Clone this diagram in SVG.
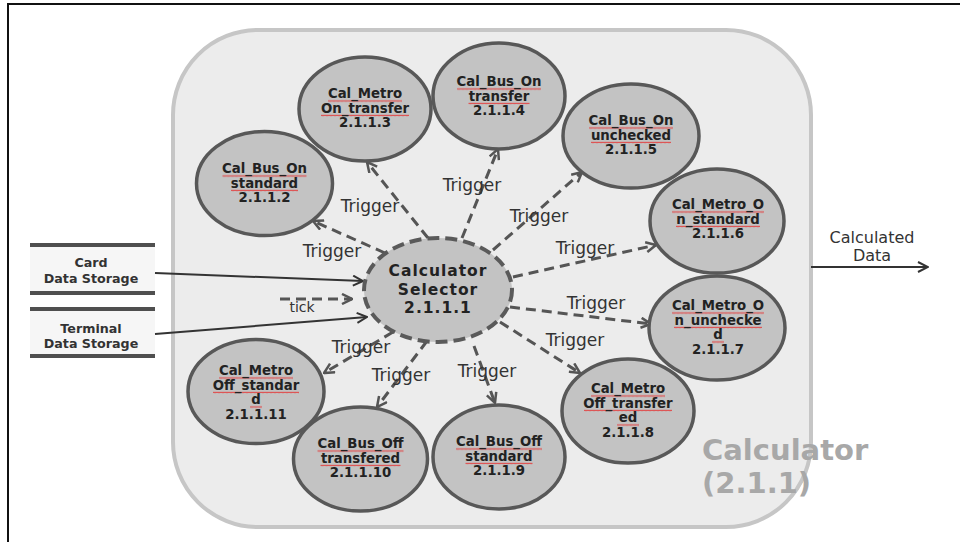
<svg xmlns="http://www.w3.org/2000/svg" width="960" height="542" viewBox="0 0 960 542">
<style>
.node ellipse{fill:#c3c3c3;stroke:#585858;stroke-width:3.5}
.nt{font-family:"DejaVu Sans","Noto Sans",sans-serif;font-weight:bold;font-size:13.3px;fill:#222;text-anchor:middle}
.sq{fill:url(#wave)}
.lbl{font-family:"DejaVu Sans","Noto Sans",sans-serif;font-size:17px;fill:#333;text-anchor:middle}
.trg{stroke:#555;stroke-width:3;stroke-dasharray:10 6;fill:none;marker-end:url(#open)}
.sol{stroke:#333;stroke-width:2;fill:none;marker-end:url(#openS)}
.store{stroke:#4f4f4f;stroke-width:4}
.st{font-family:"DejaVu Sans","Noto Sans",sans-serif;font-weight:bold;font-size:12.7px;fill:#333;text-anchor:middle}
.sel{font-family:"DejaVu Sans","Noto Sans",sans-serif;font-weight:bold;font-size:15.5px;letter-spacing:1px;fill:#222;text-anchor:middle}
</style>
<defs>
<marker id="open" viewBox="0 0 12 12" refX="11" refY="6" markerWidth="12" markerHeight="12" markerUnits="userSpaceOnUse" orient="auto">
<path d="M1,1 L11,6 L1,11" fill="none" stroke="#555" stroke-width="2.5" stroke-dasharray="none"/>
</marker>
<marker id="openS" viewBox="0 0 12 12" refX="11" refY="6" markerWidth="12" markerHeight="12" markerUnits="userSpaceOnUse" orient="auto">
<path d="M1,1 L11,6 L1,11" fill="none" stroke="#333" stroke-width="2"/>
</marker>
<pattern id="wave" width="4" height="3" patternUnits="userSpaceOnUse">
<path d="M0,2.2 L1,0.8 L2,2.2 L3,0.8 L4,2.2" fill="none" stroke="#e04848" stroke-width="0.9"/>
</pattern>
</defs>
<rect width="960" height="542" fill="#fff"/>
<path d="M8,542 V4 H960" fill="none" stroke="#111" stroke-width="2"/>

<g id="container">
<rect x="173" y="30" width="638" height="497" rx="85" ry="85" fill="#ececec" stroke="#c6c6c6" stroke-width="4"/>
<text x="702" y="460" font-family="DejaVu Sans, sans-serif" font-weight="bold" font-size="29" fill="#a8a8a8">Calculator</text>
<text x="702" y="493" font-family="DejaVu Sans, sans-serif" font-weight="bold" font-size="29" fill="#a8a8a8">(2.1.1)</text>
</g>

<g id="card-store">
<rect x="30" y="247" width="125" height="44" fill="#f6f6f6"/>
<line class="store" x1="30" y1="245" x2="155" y2="245"/>
<line class="store" x1="30" y1="293" x2="155" y2="293"/>
<text class="st" x="91" y="267">Card</text>
<text class="st" x="91" y="283">Data Storage</text>
</g>
<g id="terminal-store">
<rect x="30" y="311" width="125" height="43" fill="#f6f6f6"/>
<line class="store" x1="30" y1="309" x2="155" y2="309"/>
<line class="store" x1="30" y1="356" x2="155" y2="356"/>
<text class="st" x="91" y="333">Terminal</text>
<text class="st" x="91" y="348">Data Storage</text>
</g>

<g id="connectors">
<line class="sol" x1="155" y1="273" x2="363" y2="281"/>
<line class="sol" x1="155" y1="334" x2="367" y2="317"/>
<line class="trg" x1="280" y1="299" x2="352" y2="299"/>
<text class="lbl" x="302" y="312" style="font-size:14px">tick</text>
<line class="sol" x1="811" y1="267" x2="928" y2="267"/>
<text class="lbl" x="872" y="243" style="font-size:16px">Calculated</text>
<text class="lbl" x="872" y="261" style="font-size:16px">Data</text>

<line class="trg" x1="385" y1="253" x2="313" y2="221"/>
<line class="trg" x1="428" y1="238" x2="367" y2="162"/>
<line class="trg" x1="462" y1="238" x2="498" y2="149"/>
<line class="trg" x1="493" y1="250" x2="582" y2="172"/>
<line class="trg" x1="513" y1="277" x2="656" y2="245"/>
<line class="trg" x1="510" y1="307" x2="651" y2="324"/>
<line class="trg" x1="500" y1="322" x2="580" y2="373"/>
<line class="trg" x1="474" y1="346" x2="495" y2="403"/>
<line class="trg" x1="427" y1="341" x2="377" y2="407"/>
<line class="trg" x1="393" y1="332" x2="324" y2="373"/>

<text class="lbl" x="332" y="257">Trigger</text>
<text class="lbl" x="370" y="212">Trigger</text>
<text class="lbl" x="472" y="191">Trigger</text>
<text class="lbl" x="539" y="222">Trigger</text>
<text class="lbl" x="585" y="254">Trigger</text>
<text class="lbl" x="596" y="309">Trigger</text>
<text class="lbl" x="575" y="346">Trigger</text>
<text class="lbl" x="487" y="377">Trigger</text>
<text class="lbl" x="401" y="381">Trigger</text>
<text class="lbl" x="361" y="353">Trigger</text>
</g>

<g id="n2111">
<ellipse cx="438" cy="290" rx="74" ry="52" fill="#c3c3c3" stroke="#5a5a5a" stroke-width="4" stroke-dasharray="12 6"/>
<text class="sel" x="438" y="276">Calculator</text>
<text class="sel" x="438" y="294.5">Selector</text>
<text class="sel" x="438" y="313">2.1.1.1</text>
</g>

<g id="n2112" class="node">
<ellipse cx="264.5" cy="183.5" rx="68" ry="52"/>
<rect class="sq" transform="translate(222.5,174.5)" width="84" height="3"/>
<rect class="sq" transform="translate(231,189)" width="67" height="3"/>
<text class="nt" x="264.5" y="173">Cal_Bus_On<tspan x="264.5" dy="14.5">standard</tspan><tspan x="264.5" dy="14.5">2.1.1.2</tspan></text>
</g>
<g id="n2113" class="node">
<ellipse cx="365" cy="109" rx="66" ry="52"/>
<rect class="sq" transform="translate(328,99.5)" width="74" height="3"/>
<rect class="sq" transform="translate(321,114)" width="88" height="3"/>
<text class="nt" x="365" y="98">Cal_Metro<tspan x="365" dy="14.5">On_transfer</tspan><tspan x="365" dy="14.5">2.1.1.3</tspan></text>
</g>
<g id="n2114" class="node">
<ellipse cx="499" cy="96" rx="66" ry="53"/>
<rect class="sq" transform="translate(457,87.5)" width="84" height="3"/>
<rect class="sq" transform="translate(468.5,102)" width="61" height="3"/>
<text class="nt" x="499" y="86">Cal_Bus_On<tspan x="499" dy="14.5">transfer</tspan><tspan x="499" dy="14.5">2.1.1.4</tspan></text>
</g>
<g id="n2115" class="node">
<ellipse cx="631" cy="136" rx="68" ry="52"/>
<rect class="sq" transform="translate(589,126.5)" width="84" height="3"/>
<rect class="sq" transform="translate(591,141)" width="80" height="3"/>
<text class="nt" x="631" y="125">Cal_Bus_On<tspan x="631" dy="14.5">unchecked</tspan><tspan x="631" dy="14.5">2.1.1.5</tspan></text>
</g>
<g id="n2116" class="node">
<ellipse cx="717" cy="221" rx="67" ry="52"/>
<rect class="sq" transform="translate(672,210.5)" width="92" height="3"/>
<rect class="sq" transform="translate(676,225)" width="84" height="3"/>
<text class="nt" x="718" y="209">Cal_Metro_O<tspan x="718" dy="14.5">n_standard</tspan><tspan x="718" dy="14.5">2.1.1.6</tspan></text>
</g>
<g id="n2117" class="node">
<ellipse cx="717" cy="328" rx="68" ry="52"/>
<rect class="sq" transform="translate(672,311.5)" width="92" height="3"/>
<rect class="sq" transform="translate(674,326)" width="88" height="3"/>
<rect class="sq" transform="translate(712,340.5)" width="12" height="3"/>
<text class="nt" x="718" y="310">Cal_Metro_O<tspan x="718" dy="14.5">n_unchecke</tspan><tspan x="718" dy="14.5">d</tspan><tspan x="718" dy="14.5">2.1.1.7</tspan></text>
</g>
<g id="n2118" class="node">
<ellipse cx="628" cy="411" rx="66" ry="52"/>
<rect class="sq" transform="translate(591,394.5)" width="74" height="3"/>
<rect class="sq" transform="translate(584,409)" width="88" height="3"/>
<rect class="sq" transform="translate(617,423.5)" width="22" height="3"/>
<text class="nt" x="628" y="393">Cal_Metro<tspan x="628" dy="14.5">Off_transfer</tspan><tspan x="628" dy="14.5">ed</tspan><tspan x="628" dy="14.5">2.1.1.8</tspan></text>
</g>
<g id="n2119" class="node">
<ellipse cx="499" cy="457" rx="66" ry="52"/>
<rect class="sq" transform="translate(456,447.5)" width="86" height="3"/>
<rect class="sq" transform="translate(465.5,462)" width="67" height="3"/>
<text class="nt" x="499" y="446">Cal_Bus_Off<tspan x="499" dy="14.5">standard</tspan><tspan x="499" dy="14.5">2.1.1.9</tspan></text>
</g>
<g id="n21110" class="node">
<ellipse cx="360.5" cy="459" rx="67" ry="52"/>
<rect class="sq" transform="translate(317.5,449.5)" width="86" height="3"/>
<rect class="sq" transform="translate(320.5,464)" width="80" height="3"/>
<text class="nt" x="360.5" y="448">Cal_Bus_Off<tspan x="360.5" dy="14.5">transfered</tspan><tspan x="360.5" dy="14.5">2.1.1.10</tspan></text>
</g>
<g id="n21111" class="node">
<ellipse cx="256" cy="391.5" rx="68" ry="52"/>
<rect class="sq" transform="translate(219,376.5)" width="74" height="3"/>
<rect class="sq" transform="translate(213,391)" width="86" height="3"/>
<rect class="sq" transform="translate(250,405.5)" width="12" height="3"/>
<text class="nt" x="256" y="375">Cal_Metro<tspan x="256" dy="14.5">Off_standar</tspan><tspan x="256" dy="14.5">d</tspan><tspan x="256" dy="14.5">2.1.1.11</tspan></text>
</g>
</svg>
